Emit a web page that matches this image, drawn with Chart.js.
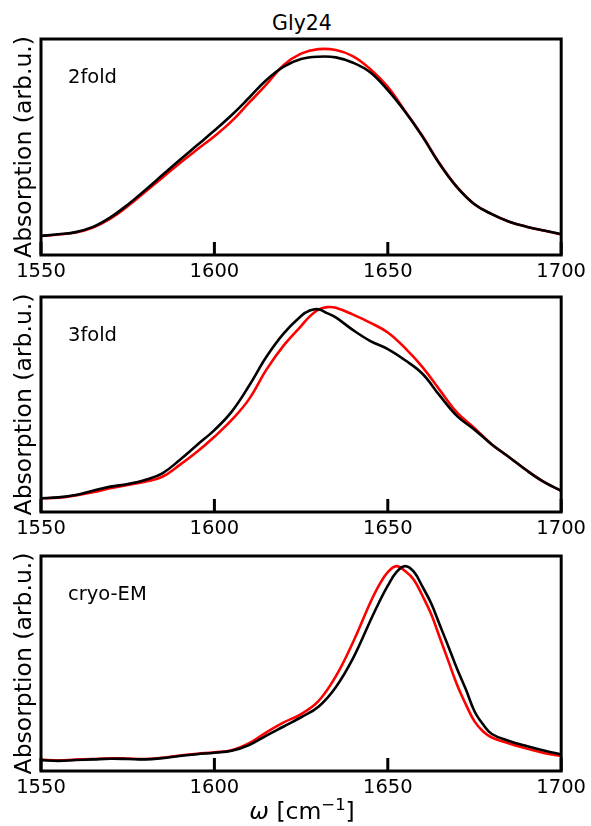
<!DOCTYPE html>
<html>
<head>
<meta charset="utf-8">
<script src="https://cdn.jsdelivr.net/npm/chart.js@4.4.0/dist/chart.umd.min.js"></script>
<style>
body { margin: 0; background: #fff; font-family: "DejaVu Sans", sans-serif; }
#wrap { position: relative; width: 591px; height: 826px; }
canvas { position: absolute; left: 0; }
#title { position: absolute; left: 41px; width: 522px; top: 11px; text-align: center;
         font-size: 20.5px; line-height: 24px; color: #000; }
#xlabel { position: absolute; left: 41px; width: 522px; top: 797px; text-align: center;
          font-size: 23.5px; line-height: 28px; color: #000; white-space: nowrap; }
#xlabel .sup { font-size: 0.7em; position: relative; top: -0.55em; }
</style>
</head>
<body>
<div id="wrap">
  <div id="title">Gly24</div>
  <canvas id="c1" width="591" height="282" style="top:0px"></canvas>
  <canvas id="c2" width="591" height="258" style="top:282px"></canvas>
  <canvas id="c3" width="591" height="286" style="top:540px"></canvas>
  <div id="xlabel"><i>ω</i> [cm<span class="sup">−1</span>]</div>
</div>
<script>
// --- data (absorption in arb. units, 0 = bottom of panel, 1 = top) ---

// panel 1: 2fold
var x2fold = [1550, 1555, 1560, 1565, 1570, 1575, 1580, 1585, 1590, 1595, 1600, 1605, 1610, 1615, 1620,
              1625, 1630, 1635, 1640, 1645, 1650, 1655, 1660, 1665, 1670, 1675, 1680, 1685, 1690, 1695, 1700]
var black2fold = [0.088, 0.096, 0.106, 0.130, 0.174, 0.233, 0.300, 0.370, 0.440, 0.508, 0.576, 0.648, 0.728, 0.810, 0.872,
                  0.907, 0.918, 0.915, 0.890, 0.845, 0.763, 0.663, 0.548, 0.420, 0.313, 0.235, 0.189, 0.154, 0.131, 0.113, 0.097]
var red2fold = [0.088, 0.095, 0.104, 0.127, 0.168, 0.226, 0.292, 0.358, 0.425, 0.488, 0.550, 0.620, 0.705, 0.790, 0.880,
                0.932, 0.953, 0.949, 0.920, 0.860, 0.778, 0.666, 0.551, 0.422, 0.314, 0.235, 0.189, 0.154, 0.131, 0.113, 0.095]

// panel 2: 3fold
var x3fold = [1550, 1555, 1560, 1565, 1570, 1575, 1580, 1585, 1590, 1595, 1600, 1605, 1610, 1615, 1620,
              1625, 1627.5, 1630, 1632.5, 1635, 1640, 1645, 1650, 1655, 1660, 1665, 1670, 1675, 1680, 1685, 1690, 1695, 1700]
var black3fold = [0.064, 0.068, 0.079, 0.099, 0.118, 0.130, 0.149, 0.180, 0.242, 0.312, 0.381, 0.467, 0.587, 0.722, 0.831,
                  0.912, 0.937, 0.943, 0.925, 0.905, 0.846, 0.795, 0.758, 0.706, 0.643, 0.541, 0.446, 0.383, 0.314, 0.255, 0.194, 0.140, 0.098]
var red3fold = [0.064, 0.066, 0.077, 0.092, 0.110, 0.126, 0.141, 0.164, 0.219, 0.280, 0.350, 0.428, 0.525, 0.662, 0.775,
                0.865, 0.910, 0.941, 0.953, 0.950, 0.918, 0.880, 0.835, 0.762, 0.674, 0.567, 0.462, 0.390, 0.314, 0.255, 0.194, 0.140, 0.098]

// panel 3: cryo-EM
var xCryo = [1550, 1555, 1560, 1565, 1570, 1575, 1580, 1585, 1590, 1595, 1600, 1605, 1610, 1615, 1620, 1625, 1630,
             1635, 1640, 1645, 1647.5, 1650, 1652.5, 1655, 1657.5, 1660, 1662.5, 1665, 1667.5, 1670, 1672.5, 1675, 1677.5,
             1680, 1685, 1690, 1695, 1700]
var blackCryo = [0.051, 0.047, 0.051, 0.054, 0.057, 0.056, 0.054, 0.060, 0.070, 0.078, 0.085, 0.094, 0.121, 0.165, 0.207, 0.250, 0.299,
                 0.390, 0.525, 0.700, 0.785, 0.862, 0.925, 0.953, 0.927, 0.857, 0.780, 0.679, 0.578, 0.474, 0.380, 0.278, 0.216,
                 0.172, 0.140, 0.116, 0.095, 0.077]
var redCryo = [0.053, 0.049, 0.053, 0.056, 0.059, 0.058, 0.056, 0.062, 0.072, 0.080, 0.087, 0.096, 0.129, 0.180, 0.226, 0.265, 0.325,
               0.440, 0.600, 0.785, 0.865, 0.925, 0.953, 0.930, 0.890, 0.815, 0.730, 0.620, 0.510, 0.400, 0.310, 0.231, 0.184,
               0.156, 0.128, 0.105, 0.084, 0.070]

var xTicks = [1550, 1600, 1650, 1700]
var yTitle = 'Absorption (arb.u.)'

Chart.defaults.font.family = '"DejaVu Sans", sans-serif'
Chart.defaults.color = '#000'

// frame around the plot area, inward tick marks and the panel name
var panelPlugin = {
    id: 'panelBox',
    afterDatasetsDraw(chart, args, opts) {
        var a = chart.chartArea
        var ctx = chart.ctx
        var xs = chart.scales.x
        ctx.save()
        ctx.strokeStyle = '#000'
        ctx.lineWidth = 3
        ctx.strokeRect(a.left, a.top, a.right - a.left, a.bottom - a.top)
        xs.ticks.forEach(t => {
            var px = xs.getPixelForValue(t.value)
            ctx.beginPath()
            ctx.moveTo(px, a.bottom)
            ctx.lineTo(px, a.bottom - 13)
            ctx.stroke()
        })
        ctx.fillStyle = '#000'
        ctx.font = '19.5px "DejaVu Sans"'
        ctx.textBaseline = 'alphabetic'
        ctx.fillText(opts.label, a.left + 27, a.top + 44)
        ctx.restore()
    }
}

function makePanel(id, xs, black, red, label, padTop, axisHeight) {
    var toPoints = arr => xs.map((x, i) => ({ x: x, y: arr[i] }))
    return new Chart(document.getElementById(id), {
        type: 'line',
        data: {
            datasets: [
                { data: toPoints(black), borderColor: '#000000', borderWidth: 2.6, pointRadius: 0, tension: 0.4 },
                { data: toPoints(red), borderColor: '#ff0000', borderWidth: 2.6, pointRadius: 0, tension: 0.4 }
            ]
        },
        options: {
            responsive: false,
            animation: false,
            devicePixelRatio: 1,
            layout: { padding: { top: padTop, right: 28, left: 0, bottom: 0 } },
            plugins: { legend: { display: false }, tooltip: { enabled: false }, panelBox: { label: label } },
            scales: {
                x: {
                    type: 'linear', min: 1550, max: 1700,
                    afterBuildTicks: s => { s.ticks = xTicks.map(v => ({ value: v })) },
                    ticks: { color: '#000', font: { size: 19.5 }, padding: 5, maxRotation: 0, autoSkip: false,
                             callback: v => String(v) },
                    grid: { display: false, drawTicks: false },
                    border: { display: false },
                    afterFit: s => { s.height = axisHeight }
                },
                y: {
                    min: 0, max: 1,
                    ticks: { display: false },
                    grid: { display: false, drawTicks: false },
                    border: { display: false },
                    title: { display: true, text: yTitle, color: '#000', font: { size: 23.5 }, padding: { top: 11, bottom: 0 } },
                    afterFit: s => { s.width = 41 }
                }
            }
        },
        plugins: [panelPlugin]
    })
}

makePanel('c1', x2fold, black2fold, red2fold, '2fold', 39, 27)
makePanel('c2', x3fold, black3fold, red3fold, '3fold', 15, 28)
makePanel('c3', xCryo, blackCryo, redCryo, 'cryo-EM', 16, 55)
</script>
</body>
</html>
